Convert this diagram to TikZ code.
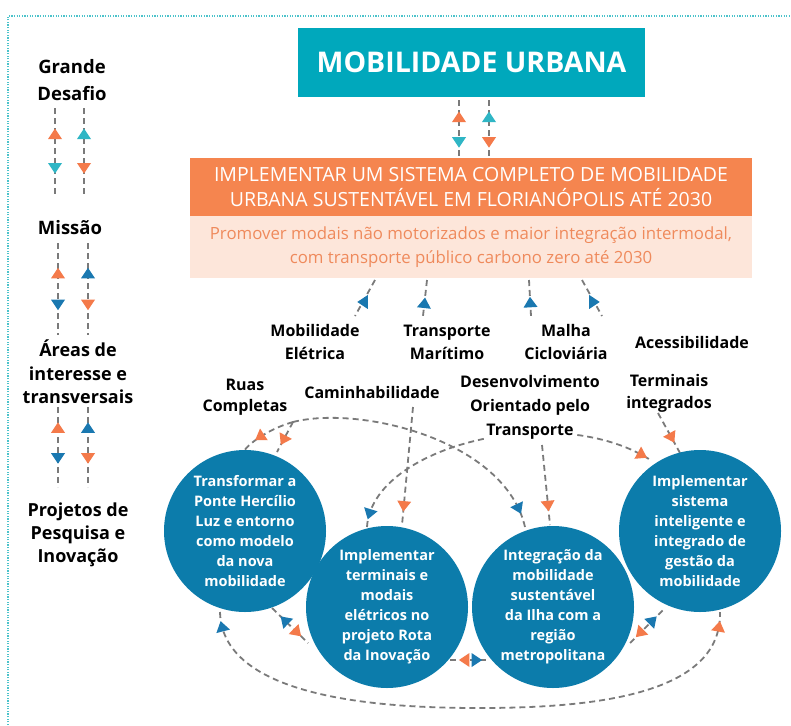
\documentclass[tikz,border=0pt]{standalone}
\usepackage{fontspec}
\setmainfont{Open Sans}
\usetikzlibrary{decorations.markings}
\definecolor{cteal}{HTML}{00A8BC}
\definecolor{tteal}{HTML}{2FB6C5}
\definecolor{corange}{HTML}{F5854F}
\definecolor{torange}{HTML}{F47A4A}
\definecolor{cpeach}{HTML}{FDE6DA}
\definecolor{ptext}{HTML}{EF8A5C}
\definecolor{cblue}{HTML}{0C7CAB}
\definecolor{tblue}{HTML}{1A78B0}
\definecolor{lgray}{HTML}{7A7A7A}
\definecolor{bteal}{HTML}{4CC3CB}
\newcommand{\wbg}[1]{{\setlength{\fboxsep}{1pt}\colorbox{white}{#1}}}
\begin{document}
\begin{tikzpicture}[x=1pt,y=-1pt,
  dl/.style={draw=lgray, line width=1.8pt, dash pattern=on 6pt off 4pt},
  tri/.style n args={3}{postaction={decorate,decoration={markings,mark=at position #1 with {\fill[#2,rotate=#3] (5.5pt,0pt) -- (-5pt,7pt) -- (-5pt,-7pt) -- cycle;}}}},
  lbl/.style={align=center, inner sep=0pt, font=\bfseries\fontsize{16}{23}\selectfont},
  side/.style={align=center, inner sep=0pt, font=\bfseries\fontsize{18.5}{24}\selectfont},
  proj/.style={circle, fill=cblue, minimum size=162pt, inner sep=0pt, align=center, text=white, font=\bfseries\fontsize{14.5}{20}\selectfont},
]
\useasboundingbox (0,0) rectangle (791,725);
\fill[white] (0,0) rectangle (791,725);
% frame
\draw[bteal, line width=1.6pt, dash pattern=on 1.2pt off 1.4pt] (8,725) -- (8,16) -- (791,16);

% top boxes
\node[fill=cteal, minimum width=347pt, minimum height=69pt, inner sep=0pt, text=white,
      font=\bfseries\fontsize{28.5}{30}\selectfont] (tit) at (471.5,62.5) {MOBILIDADE URBANA};
\node[fill=corange, minimum width=562pt, minimum height=58pt, inner sep=0pt, text=white, align=center,
      font=\fontsize{19.5}{25}\selectfont] (mis) at (471,187) {IMPLEMENTAR UM SISTEMA COMPLETO DE MOBILIDADE\\URBANA SUSTENTÁVEL EM FLORIANÓPOLIS ATÉ 2030};
\node[fill=cpeach, minimum width=562pt, minimum height=62pt, inner sep=0pt, text=ptext, align=center,
      font=\fontsize{16.8}{24}\selectfont] (sub) at (471,247) {Promover modais não motorizados e maior integração intermodal,\\com transporte público carbono zero até 2030};

% title <-> mission arrows
\coordinate (ta1) at (459,100); \coordinate (tb1) at (459,157);
\coordinate (ta2) at (489,100); \coordinate (tb2) at (489,157);
\draw[dl, tri={0.30}{torange}{180}, tri={0.74}{tteal}{0}] (ta1) -- (tb1);
\draw[dl, tri={0.30}{tteal}{180}, tri={0.74}{torange}{0}] (ta2) -- (tb2);

% left column
\node[side, font=\bfseries\fontsize{18.5}{27}\selectfont] (gd) at (72,80) {Grande\\Desafio};
\node[side] (mi) at (70,228) {Missão};
\node[side, font=\bfseries\fontsize{18}{23.5}\selectfont] (ai) at (78,372) {Áreas de\\interesse e\\transversais};
\node[side, font=\bfseries\fontsize{18}{23}\selectfont] (pp) at (78,535) {Projetos de\\Pesquisa e\\Inovação};

\coordinate (l1a) at (55,108); \coordinate (l1b) at (55,195);
\coordinate (r1a) at (84,108); \coordinate (r1b) at (84,195);
\draw[dl, tri={0.30}{torange}{180}, tri={0.69}{tteal}{0}] (l1a) -- (l1b);
\draw[dl, tri={0.30}{tteal}{180}, tri={0.69}{torange}{0}] (r1a) -- (r1b);
\coordinate (l2a) at (58,243); \coordinate (l2b) at (58,335);
\coordinate (r2a) at (88,243); \coordinate (r2b) at (88,335);
\draw[dl, tri={0.33}{torange}{180}, tri={0.67}{tblue}{0}] (l2a) -- (l2b);
\draw[dl, tri={0.33}{tblue}{180}, tri={0.67}{torange}{0}] (r2a) -- (r2b);
\coordinate (l3a) at (58,407); \coordinate (l3b) at (58,487);
\coordinate (r3a) at (88,407); \coordinate (r3b) at (88,487);
\draw[dl, tri={0.26}{torange}{180}, tri={0.64}{tblue}{0}] (l3a) -- (l3b);
\draw[dl, tri={0.26}{tblue}{180}, tri={0.64}{torange}{0}] (r3a) -- (r3b);

% mission -> areas arrows
\coordinate (p1a) at (375,280); \coordinate (p1b) at (355,316);
\coordinate (p2a) at (427,280); \coordinate (p2b) at (423,316);
\coordinate (p3a) at (529,280); \coordinate (p3b) at (531,316);
\coordinate (p4a) at (582,280); \coordinate (p4b) at (602,316);
\draw[dl, tri={0.61}{tblue}{-61}] (p1a) -- (p1b);
\draw[dl, tri={0.64}{tblue}{180}] (p2a) -- (p2b);
\draw[dl, tri={0.62}{tblue}{180}] (p3a) -- (p3b);
\draw[dl, tri={0.61}{tblue}{61}] (p4a) -- (p4b);

% project connectors
\coordinate (J) at (293,422);
\coordinate (c1tl) at (243,452);
\coordinate (c1tr) at (277,452);
\coordinate (c3t) at (525,527);
\coordinate (c2t) at (367,527);
\coordinate (c4tl) at (652,461);
\draw[dl, tri={0.93}{tblue}{0}] (J) .. controls (360,405) and (505,440) .. (c3t);
\draw[dl, tri={0.62}{torange}{0}] (J) .. controls (272,428) and (252,440) .. (c1tl);
\draw[dl, tri={0.60}{torange}{0}] (J) -- (c1tr);
\draw[dl, tri={0.04}{tblue}{180}, tri={0.965}{torange}{0}] (c2t) .. controls (372,445) and (560,400) .. (c4tl);

\coordinate (cmA) at (413,407); \coordinate (cmB) at (402,525);
\draw[dl, tri={0.84}{torange}{0}] (cmA) -- (cmB);
\coordinate (dtA) at (542,445); \coordinate (dtB) at (550,525);
\coordinate (tiA) at (658,413); \coordinate (tiB) at (680,453);
\draw[dl, tri={0.62}{torange}{0}] (tiA) -- (tiB);

\coordinate (c12a) at (272,608); \coordinate (c12b) at (308,643);
\draw[dl, tri={0.35}{tblue}{180}, tri={0.70}{torange}{0}] (c12a) -- (c12b);
\coordinate (c23a) at (450,660); \coordinate (c23b) at (488,660);
\draw[dl, tri={0.38}{torange}{180}, tri={0.70}{tblue}{0}] (c23a) -- (c23b);
\coordinate (c34a) at (630,643); \coordinate (c34b) at (665,608);
\draw[dl, tri={0.28}{torange}{180}, tri={0.65}{tblue}{0}] (c34a) -- (c34b);
\coordinate (c1b) at (220,612); \coordinate (c4b) at (720,612); \coordinate (bm) at (480,708);
\draw[dl, tri={0.025}{tblue}{180}, tri={0.975}{torange}{0}] (c1b) .. controls (222,703) and (400,708) .. (bm) .. controls (600,708) and (722,693) .. (c4b);

% labels
\node[lbl] (me) at (315,342) {Mobilidade\\Elétrica};
\node[lbl] (tm) at (447,342) {Transporte\\Marítimo};
\node[lbl] (mc) at (566,342) {Malha\\Cicloviária};
\node[lbl] (ac) at (692,342) {Acessibilidade};
\node[lbl, font=\bfseries\fontsize{16}{21.5}\selectfont] (rc) at (245,397) {Ruas\\Completas};
\node[lbl] (cm) at (372,392) {Caminhabilidade};
\node[lbl, font=\bfseries\fontsize{16}{24}\selectfont] (dot) at (530,407) {\wbg{Desenvolvimento}\\\wbg{Orientado pelo}\\\wbg{Transporte}};
\node[lbl, font=\bfseries\fontsize{16}{22}\selectfont] (ti) at (669,393) {Terminais\\integrados};
\draw[dl, tri={0.76}{torange}{0}] (dtA) -- (dtB);

% project circles
\node[proj] (c1) at (245,531) {Transformar a\\Ponte Hercílio\\Luz e entorno\\como modelo\\da nova\\mobilidade};
\node[proj] (c2) at (387,607) {Implementar\\terminais e\\modais\\elétricos no\\projeto Rota\\da Inovação};
\node[proj] (c3) at (553,607) {Integração da\\mobilidade\\sustentável\\da Ilha com a\\região\\metropolitana};
\node[proj] (c4) at (700,531) {Implementar\\sistema\\inteligente e\\integrado de\\gestão da\\mobilidade};
\end{tikzpicture}
\end{document}
